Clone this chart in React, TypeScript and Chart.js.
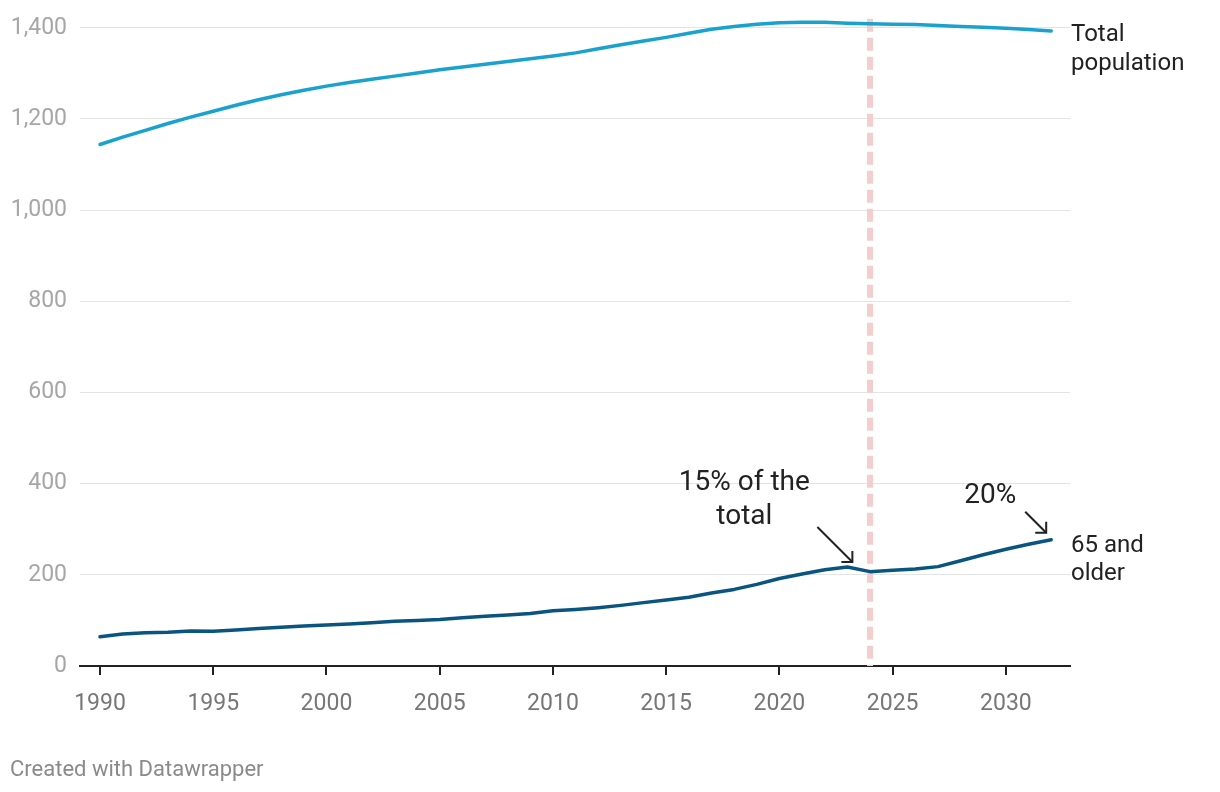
import React, { useEffect, useRef } from "react";
import { Chart, registerables } from "chart.js";

Chart.register(...registerables);

const years = [
  1990, 1991, 1992, 1993, 1994, 1995, 1996, 1997, 1998, 1999,
  2000, 2001, 2002, 2003, 2004, 2005, 2006, 2007, 2008, 2009,
  2010, 2011, 2012, 2013, 2014, 2015, 2016, 2017, 2018, 2019,
  2020, 2021, 2022, 2023, 2024, 2025, 2026, 2027, 2028, 2029,
  2030, 2031, 2032,
];

const totalPopulation = [
  1144, 1160, 1175, 1190, 1204, 1217, 1230, 1242, 1253, 1263,
  1272, 1280, 1287, 1294, 1301, 1308, 1314, 1320, 1326, 1332,
  1338, 1345, 1354, 1363, 1371, 1379, 1388, 1397, 1403, 1408,
  1411, 1412, 1412, 1410, 1409, 1408, 1407, 1405, 1403, 1401,
  1399, 1396, 1393,
];

const aged65Plus = [
  64, 70, 73, 74, 77, 76, 79, 82, 85, 88,
  90, 92, 95, 98, 100, 102, 106, 109, 112, 115,
  121, 124, 128, 133, 139, 145, 151, 160, 168, 179,
  192, 202, 211, 217, 207, 210, 213, 218, 231, 244,
  256, 267, 277,
];

const yTickValues = [0, 200, 400, 600, 800, 1000, 1200, 1400];
const xTickValues = [1990, 1995, 2000, 2005, 2010, 2015, 2020, 2025, 2030];
const projectionYear = 2024;
const annotationYear1 = 2023;
const annotationYear2 = 2032;

const FONT = "Roboto, 'Noto Sans', sans-serif";
const COLOR_TOTAL = "#1aa2cf";
const COLOR_OLD = "#0a5580";

function drawArrow(ctx: CanvasRenderingContext2D, x1: number, y1: number, x2: number, y2: number) {
  ctx.save();
  ctx.strokeStyle = "#222";
  ctx.lineWidth = 2;
  ctx.lineCap = "butt";
  ctx.beginPath();
  ctx.moveTo(x1, y1);
  ctx.lineTo(x2, y2);
  ctx.stroke();
  const ang = Math.atan2(y2 - y1, x2 - x1);
  const head = 11;
  ctx.beginPath();
  ctx.moveTo(x2 - head * Math.cos(ang - Math.PI / 4), y2 - head * Math.sin(ang - Math.PI / 4));
  ctx.lineTo(x2, y2);
  ctx.lineTo(x2 - head * Math.cos(ang + Math.PI / 4), y2 - head * Math.sin(ang + Math.PI / 4));
  ctx.stroke();
  ctx.restore();
}

const overlayPlugin = {
  id: "overlay",
  beforeDatasetsDraw(chart: any) {
    const { ctx, chartArea, scales } = chart;
    const x = scales.x.getPixelForValue(projectionYear);
    ctx.save();
    ctx.strokeStyle = "#f4cdcd";
    ctx.lineWidth = 6;
    ctx.setLineDash([13, 6]);
    ctx.beginPath();
    ctx.moveTo(x, scales.y.getPixelForValue(1420));
    ctx.lineTo(x, chartArea.bottom);
    ctx.stroke();
    ctx.restore();
  },
  afterDatasetsDraw(chart: any) {
    const { ctx, chartArea, scales } = chart;
    const xs = scales.x;
    const ys = scales.y;
    ctx.save();
    ctx.fillStyle = "#222";
    ctx.textBaseline = "middle";
    ctx.textAlign = "left";
    ctx.font = `24px ${FONT}`;
    const lx = chartArea.right + 1;
    const yt = ys.getPixelForValue(totalPopulation[totalPopulation.length - 1]) + 4;
    ctx.fillText("Total", lx, yt);
    ctx.fillText("population", lx, yt + 29);
    const yo = ys.getPixelForValue(aged65Plus[aged65Plus.length - 1]) + 6;
    ctx.fillText("65 and", lx, yo);
    ctx.fillText("older", lx, yo + 28);

    // annotation 1
    const i1 = years.indexOf(annotationYear1);
    const t1x = xs.getPixelForValue(annotationYear1) + 5;
    const t1y = ys.getPixelForValue(aged65Plus[i1]) - 5;
    drawArrow(ctx, t1x - 35, t1y - 35, t1x, t1y);
    ctx.font = `28px ${FONT}`;
    ctx.textAlign = "center";
    ctx.fillStyle = "#222";
    ctx.fillText("15% of the", t1x - 108, t1y - 79);
    ctx.fillText("total", t1x - 108, t1y - 45);

    // annotation 2
    const i2 = years.indexOf(annotationYear2);
    const t2x = xs.getPixelForValue(annotationYear2) - 5;
    const t2y = ys.getPixelForValue(aged65Plus[i2]) - 7;
    drawArrow(ctx, t2x - 21, t2y - 21, t2x, t2y);
    ctx.fillText("20%", t2x - 56, t2y - 37);

    // footer
    ctx.textAlign = "left";
    ctx.font = `22px ${FONT}`;
    ctx.fillStyle = "#8a8a8a";
    ctx.fillText("Created with Datawrapper", 10, 770);
    ctx.restore();
  },
};

export default function App() {
  const ref = useRef<HTMLCanvasElement | null>(null);

  useEffect(() => {
    if (!ref.current) return;
    const chart = new Chart(ref.current, {
      type: "line",
      data: {
        datasets: [
          {
            label: "Total population",
            data: years.map((y, i) => ({ x: y, y: totalPopulation[i] })),
            borderColor: COLOR_TOTAL,
            borderWidth: 3.5,
            pointRadius: 0,
            tension: 0,
            borderCapStyle: "round",
            borderJoinStyle: "round",
          },
          {
            label: "65 and older",
            data: years.map((y, i) => ({ x: y, y: aged65Plus[i] })),
            borderColor: COLOR_OLD,
            borderWidth: 3.5,
            pointRadius: 0,
            tension: 0,
            borderCapStyle: "round",
            borderJoinStyle: "round",
          },
        ],
      },
      options: {
        animation: false,
        responsive: false,
        devicePixelRatio: 1,
        layout: { padding: { top: 5, right: 150, bottom: 70, left: 0 } },
        plugins: {
          legend: { display: false },
          tooltip: { enabled: false },
        },
        scales: {
          x: {
            type: "linear",
            min: 1989.117,
            max: 2032.83,
            afterBuildTicks: (scale: any) => {
              scale.ticks = xTickValues.map((v) => ({ value: v }));
            },
            afterFit: (scale: any) => {
              scale.height = 56;
              scale.paddingLeft = 0;
              scale.paddingRight = 0;
            },
            grid: {
              drawOnChartArea: false,
              drawTicks: true,
              tickLength: 9,
              color: "#222",
              lineWidth: 2,
            },
            border: { display: true, color: "#222", width: 2 },
            ticks: {
              autoSkip: false,
              maxRotation: 0,
              padding: 15,
              color: "#777",
              font: { family: FONT, size: 23 },
              callback: (v: any) => String(v),
            },
          },
          y: {
            type: "linear",
            min: 0,
            max: 1450,
            afterBuildTicks: (scale: any) => {
              scale.ticks = yTickValues.map((v) => ({ value: v }));
            },
            afterFit: (scale: any) => {
              scale.width = 80;
              scale.paddingTop = 0;
              scale.paddingBottom = 0;
            },
            grid: {
              drawTicks: false,
              color: "#e4e4e4",
              lineWidth: 1,
            },
            border: { display: false },
            ticks: {
              padding: 13,
              color: "#a6a6a6",
              font: { family: FONT, size: 23 },
              callback: (v: any) => Number(v).toLocaleString("en-US"),
            },
          },
        },
      },
      plugins: [overlayPlugin],
    });
    return () => chart.destroy();
  }, []);

  return (
    <div style={{ position: "fixed", left: 0, top: 0, width: 1220, height: 792, background: "#fff" }}>
      <canvas ref={ref} width={1220} height={792} style={{ display: "block", width: 1220, height: 792 }} />
    </div>
  );
}
